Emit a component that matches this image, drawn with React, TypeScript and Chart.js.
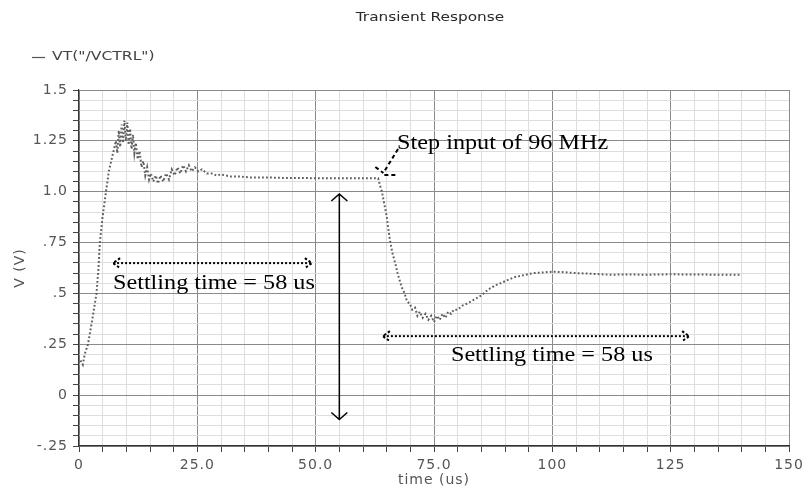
import React, { useEffect, useRef } from 'react';
import { Chart, registerables } from 'chart.js';
Chart.register(...registerables);

// ---- data (time in us, voltage in V) ----
const timeUs = [
  0.3, 0.8, 1.2, 1.9, 2.5, 3.0, 3.7, 4.1, 4.4, 5.0, 5.7, 6.3, 7.0, 7.5,
  7.8, 8.1, 8.4, 8.7, 9.0, 9.3, 9.6, 9.9, 10.2, 10.5, 10.8, 11.1, 11.4, 11.7, 12.0, 12.4,
  12.8, 13.2, 13.6, 14.0, 14.4, 14.8, 15.2, 15.7, 16.2, 16.7, 17.2, 17.8, 18.4, 19.0,
  19.6, 20.2, 20.8, 21.4, 22.0, 22.6, 23.2, 23.8, 24.5, 25.2, 26.0, 27, 28, 29, 30,
  32, 34, 36, 38, 40, 43, 46, 50, 54, 58, 62, 63.2,
  63.6, 64.0, 64.5, 65.0, 65.4, 65.7, 66.2, 66.8, 67.3, 67.8, 68.2,
  68.8, 69.3, 69.9, 70.4, 71.0, 71.5, 72.0, 72.6, 73.2, 73.8, 74.4, 75.0, 75.6, 76.2,
  76.8, 77.4, 78.0, 78.6, 79.2, 80.0, 81.0, 82.0, 83.5, 85, 86.5, 88, 90, 92, 94, 96,
  98, 100, 102, 105, 108, 112, 116, 120, 125, 130, 135, 140,
];
const vctrl = [
  0.17, 0.15, 0.2, 0.25, 0.33, 0.4, 0.5, 0.62, 0.75, 0.88, 1.0, 1.1, 1.17, 1.22,
  1.25, 1.19, 1.3, 1.22, 1.33, 1.24, 1.35, 1.25, 1.34, 1.23, 1.31, 1.21, 1.28, 1.19, 1.24, 1.16,
  1.2, 1.12, 1.15, 1.08, 1.12, 1.06, 1.09, 1.05, 1.08, 1.04, 1.08, 1.05, 1.09, 1.06,
  1.11, 1.08, 1.12, 1.09, 1.13, 1.1, 1.13, 1.1, 1.12, 1.1, 1.11, 1.09, 1.09, 1.08, 1.085,
  1.075, 1.075, 1.07, 1.07, 1.07, 1.068, 1.068, 1.066, 1.066, 1.066, 1.066, 1.066,
  1.03, 1.0, 0.94, 0.88, 0.81, 0.76, 0.7, 0.65, 0.6, 0.56, 0.53,
  0.5, 0.46, 0.45, 0.42, 0.43, 0.39, 0.41, 0.38, 0.4, 0.37, 0.39, 0.36, 0.39, 0.37,
  0.4, 0.38, 0.41, 0.4, 0.42, 0.42, 0.44, 0.45, 0.47, 0.49, 0.52, 0.54, 0.56, 0.58, 0.59, 0.6,
  0.603, 0.607, 0.605, 0.6, 0.597, 0.592, 0.593, 0.592, 0.594, 0.593, 0.592, 0.592,
];

// ---- ticks & texts ----
const xTickValues = [0, 25, 50, 75, 100, 125, 150];
const xTickLabels = ['0', '25.0', '50.0', '75.0', '100', '125', '150'];
const yTickValues = [1.5, 1.25, 1.0, 0.75, 0.5, 0.25, 0, -0.25];
const yTickLabels = ['1.5', '1.25', '1.0', '.75', '.5', '.25', '0', '-.25'];
const titleText = 'Transient Response';
const legendText = 'VT("/VCTRL")';
const xTitleText = 'time (us)';
const yTitleText = 'V (V)';
const settlingText = 'Settling time = 58 us';
const stepText = 'Step input of 96 MHz';

// ---- annotation anchors in data units ----
const settling1 = [7.2, 49.2, 0.649];      // from t, to t, at v
const settling1Label = [28.5, 0.551];     // centre t, v
const settling2 = [64.2, 128.9, 0.29];
const settling2Label = [99.9, 0.196];
const deltaArrow = [55.0, 0.989, -0.12];   // at t, from v, to v
const stepLabel = [67.2, 1.24];           // left t, middle v
const stepPointer = [67.4, 1.21, 64.3, 1.092]; // from t,v to tip t,v

const isMajor = (v: number, majors: number[]) => majors.some((m) => Math.abs(m - v) < 1e-6);
const labelFor = (v: number, vals: number[], labels: string[]) => {
  const i = vals.findIndex((m) => Math.abs(m - v) < 1e-6);
  return i >= 0 ? labels[i] : '';
};

const annotationPlugin = {
  id: 'annotations',
  beforeDraw(chart: any) {
    chart.ctx.letterSpacing = '1px';
  },
  beforeDatasetsDraw(chart: any) {
    chart.ctx.letterSpacing = '0px';
  },
  afterDraw(chart: any) {
    const ctx = chart.ctx as CanvasRenderingContext2D;
    const xs = chart.scales.x;
    const ys = chart.scales.y;
    const px = (t: number) => xs.getPixelForValue(t);
    const py = (v: number) => ys.getPixelForValue(v);
    ctx.save();
    (ctx as any).letterSpacing = '0px';

    // title
    ctx.save();
    ctx.fillStyle = '#2a2a2a';
    ctx.font = '13px "DejaVu Sans"';
    ctx.textBaseline = 'middle';
    ctx.textAlign = 'center';
    ctx.translate(430, 18);
    ctx.scale(1.18, 1);
    ctx.fillText(titleText, 0, 0);
    ctx.restore();

    // legend
    ctx.save();
    ctx.strokeStyle = '#555';
    ctx.lineWidth = 1.2;
    ctx.beginPath();
    ctx.moveTo(32, 57.5);
    ctx.lineTo(45, 57.5);
    ctx.stroke();
    ctx.fillStyle = '#444';
    ctx.font = '13px "DejaVu Sans"';
    ctx.textBaseline = 'middle';
    ctx.textAlign = 'left';
    ctx.translate(52, 57);
    ctx.scale(1.2, 1);
    ctx.fillText(legendText, 0, 0);
    ctx.restore();

    ctx.strokeStyle = '#000';
    ctx.fillStyle = '#000';

    // vertical double arrow (solid)
    {
      const x = px(deltaArrow[0]);
      const y1 = py(deltaArrow[1]);
      const y2 = py(deltaArrow[2]);
      ctx.setLineDash([]);
      ctx.lineWidth = 1.5;
      ctx.beginPath();
      ctx.moveTo(x, y1);
      ctx.lineTo(x, y2);
      ctx.moveTo(x - 8, y1 + 7);
      ctx.lineTo(x, y1);
      ctx.lineTo(x + 8, y1 + 7);
      ctx.moveTo(x - 8, y2 - 7);
      ctx.lineTo(x, y2);
      ctx.lineTo(x + 8, y2 - 7);
      ctx.stroke();
    }

    // dotted double arrows
    const dottedArrow = (a: number[]) => {
      const x1 = px(a[0]);
      const x2 = px(a[1]);
      const y = py(a[2]);
      ctx.lineWidth = 2;
      ctx.setLineDash([2, 2]);
      ctx.beginPath();
      ctx.moveTo(x1, y);
      ctx.lineTo(x2, y);
      ctx.stroke();
      ctx.setLineDash([2.5, 2]);
      ctx.beginPath();
      ctx.moveTo(x1 + 7, y - 5);
      ctx.lineTo(x1, y);
      ctx.lineTo(x1 + 7, y + 5);
      ctx.moveTo(x2 - 7, y - 5);
      ctx.lineTo(x2, y);
      ctx.lineTo(x2 - 7, y + 5);
      ctx.stroke();
    };
    dottedArrow(settling1);
    dottedArrow(settling2);

    // step pointer (dashed)
    {
      const x1 = px(stepPointer[0]);
      const y1 = py(stepPointer[1]);
      const x2 = px(stepPointer[2]);
      const y2 = py(stepPointer[3]);
      ctx.lineWidth = 2;
      ctx.setLineDash([4, 3]);
      ctx.beginPath();
      ctx.moveTo(x1, y1);
      ctx.lineTo(x2, y2);
      ctx.moveTo(x2 - 8, y2 - 6);
      ctx.lineTo(x2, y2);
      ctx.moveTo(x2 + 1, y2 + 2);
      ctx.lineTo(x2 + 14, y2 + 2);
      ctx.stroke();
    }
    ctx.setLineDash([]);

    // serif texts
    const serifText = (text: string, x: number, y: number, align: CanvasTextAlign) => {
      ctx.save();
      ctx.font = '22px "Liberation Serif"';
      ctx.textBaseline = 'middle';
      ctx.textAlign = align;
      ctx.translate(x, y);
      ctx.scale(1.1, 1);
      ctx.fillText(text, 0, 0);
      ctx.restore();
    };
    serifText(settlingText, px(settling1Label[0]), py(settling1Label[1]), 'center');
    serifText(settlingText, px(settling2Label[0]), py(settling2Label[1]), 'center');
    serifText(stepText, px(stepLabel[0]), py(stepLabel[1]), 'left');

    ctx.restore();
  },
};

export default function App() {
  const ref = useRef<HTMLCanvasElement | null>(null);
  useEffect(() => {
    if (!ref.current) return;
    const data = timeUs.map((t, i) => ({ x: t, y: vctrl[i] }));
    const chart = new Chart(ref.current, {
      type: 'line',
      data: {
        datasets: [
          {
            label: legendText,
            data,
            borderColor: '#5e5e5e',
            borderWidth: 2,
            borderDash: [1.8, 2.2],
            pointRadius: 0,
            tension: 0,
            fill: false,
          },
        ],
      },
      options: {
        animation: false,
        responsive: false,
        devicePixelRatio: 1,
        layout: { padding: { top: 90, right: 19, bottom: 0, left: 0 } },
        plugins: {
          legend: { display: false },
          title: { display: false },
          tooltip: { enabled: false },
        },
        scales: {
          x: {
            type: 'linear',
            min: 0,
            max: 150,
            afterFit: (s: any) => {
              s.height = 45;
            },
            ticks: {
              stepSize: 5,
              autoSkip: false,
              maxRotation: 0,
              padding: 5,
              color: '#555',
              font: { family: '"DejaVu Sans"', size: 14 },
              callback: (v: any) => labelFor(Number(v), xTickValues, xTickLabels),
            },
            grid: {
              color: (c: any) => (c.tick && isMajor(c.tick.value, xTickValues) ? '#8a8a8a' : '#dedede'),
              lineWidth: 1,
              tickLength: 6,
              tickColor: '#444',
            },
            border: { color: '#333', width: 1.2 },
            title: {
              display: true,
              text: xTitleText,
              color: '#555',
              font: { family: '"DejaVu Sans"', size: 14 },
              padding: { top: 0, bottom: 2 },
            },
          },
          y: {
            type: 'linear',
            min: -0.25,
            max: 1.5,
            afterFit: (s: any) => {
              s.width = 79;
            },
            ticks: {
              stepSize: 0.05,
              autoSkip: false,
              padding: 5,
              color: '#555',
              font: { family: '"DejaVu Sans"', size: 14 },
              callback: (v: any) => labelFor(Number(v), yTickValues, yTickLabels),
            },
            grid: {
              color: (c: any) => (c.tick && isMajor(c.tick.value, yTickValues) ? '#8a8a8a' : '#dedede'),
              lineWidth: 1,
              tickLength: 6,
              tickColor: '#444',
            },
            border: { color: '#333', width: 1.2 },
            title: {
              display: true,
              text: yTitleText,
              color: '#555',
              font: { family: '"DejaVu Sans"', size: 14 },
              padding: { top: 12, bottom: 0 },
            },
          },
        },
      },
      plugins: [annotationPlugin],
    } as any);
    return () => chart.destroy();
  }, []);
  return (
    <div style={{ position: 'fixed', left: 0, top: 0, width: 808, height: 491, background: '#fff' }}>
      <canvas ref={ref} width={808} height={491} style={{ display: 'block' }} />
    </div>
  );
}
